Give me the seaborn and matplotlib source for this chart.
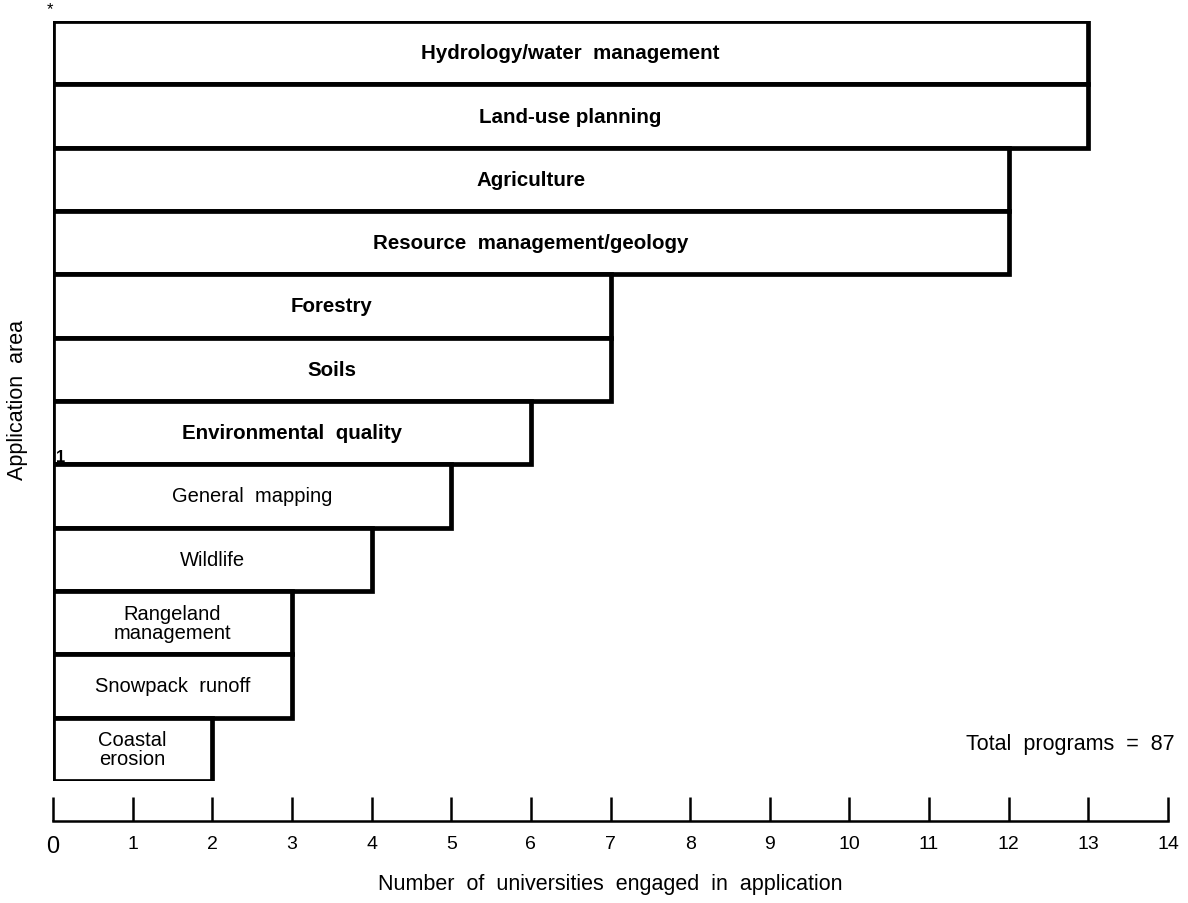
import matplotlib
matplotlib.use("Agg")
import matplotlib.pyplot as plt
import seaborn as sns
import pandas as pd

# ---- data ----
categories = [
    "Hydrology/water  management",
    "Land-use planning",
    "Agriculture",
    "Resource  management/geology",
    "Forestry",
    "Soils",
    "Environmental  quality",
    "General  mapping",
    "Wildlife",
    "Rangeland\nmanagement",
    "Snowpack  runoff",
    "Coastal\nerosion",
]
universities = [13, 13, 12, 12, 7, 7, 6, 5, 4, 3, 3, 2]
bold_flags = [True, True, True, True, True, True, True,
              False, False, False, False, False]
tick_values = list(range(0, 15))
tick_labels = [str(v) for v in tick_values]

df = pd.DataFrame({"area": categories, "n": universities})

sns.set_theme(style="white")
plt.rcParams["font.family"] = ["Liberation Sans", "DejaVu Sans"]
plt.rcParams["text.color"] = "black"
plt.rcParams["xtick.color"] = "black"
plt.rcParams["axes.labelcolor"] = "black"

fig = plt.figure(figsize=(11.88, 9.04), dpi=100)
W, H = 1188, 904
x0, x14 = 53, 1168
ytop, ybot = 22, 782
ax = fig.add_axes([x0 / W, 1 - ybot / H, (x14 - x0) / W, (ybot - ytop) / H])

sns.barplot(data=df, y="area", x="n", order=categories, orient="h",
            color="white", edgecolor="black", linewidth=3.4, width=1.0,
            ax=ax, saturation=1)

ax.set_xlim(0, 14)
ax.set_ylim(len(categories) - 0.5, -0.5)

for i, (lab, v, b) in enumerate(zip(categories, universities, bold_flags)):
    ax.text(v / 2, i, lab, ha="center", va="center",
            fontsize=14.8 if b else 14.5,
            fontweight="bold" if b else "normal",
            linespacing=1.0, color="black")

for s in ["left", "top", "right"]:
    ax.spines[s].set_visible(False)
ax.spines["bottom"].set_position(("outward", 28.8))
ax.spines["bottom"].set_linewidth(1.8)
ax.spines["bottom"].set_color("black")
ax.set_yticks([])
ax.set_ylabel("")
ax.set_xlabel("")
ax.set_xticks(tick_values)
ax.set_xticklabels(tick_labels)
ax.tick_params(axis="x", direction="in", length=17, width=1.8, color="black",
               pad=10, labelsize=14, bottom=True, labelcolor="black")
ax.get_xticklabels()[0].set_fontsize(17)

fig.text((x0 + x14) / 2 / W + 0.0, 1 - 885 / H,
         "Number  of  universities  engaged  in  application",
         ha="center", va="center", fontsize=15.5)
fig.text(18 / W, 1 - 400 / H, "Application  area", rotation=90,
         ha="center", va="center", fontsize=15.5)
fig.text(1175 / W, 1 - 745 / H, "Total  programs  =  87",
         ha="right", va="center", fontsize=15.5)
fig.text(50 / W, 1 - 10 / H, "*", ha="center", va="center", fontsize=12)
fig.text(61 / W, 1 - 458 / H, "1", ha="center", va="center", fontsize=12,
         fontweight="bold")

fig.savefig("out.png", dpi=100, facecolor="white")
